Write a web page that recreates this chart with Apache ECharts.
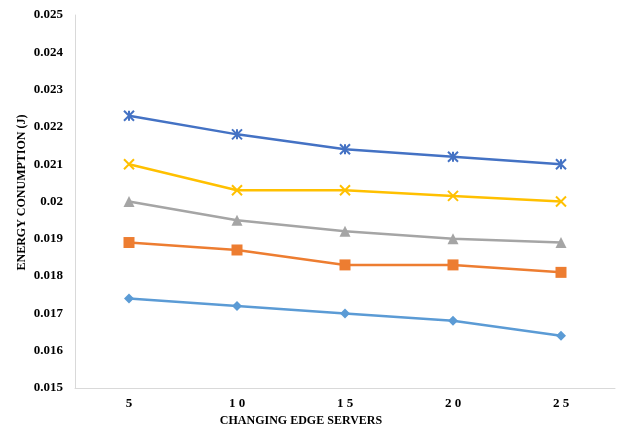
<!DOCTYPE html>
<html>
<head>
<meta charset="utf-8">
<script src="https://cdn.jsdelivr.net/npm/echarts@6/dist/echarts.min.js"></script>
<style>html,body{margin:0;padding:0;background:#fff;}#c{width:620px;height:429px;}</style>
</head>
<body>
<div id="c"></div>
<script>
var categories = ['5', '10', '15', '20', '25'];
var seriesDiamond = [0.0174, 0.0172, 0.0170, 0.0168, 0.0164];
var seriesSquare = [0.0189, 0.0187, 0.0183, 0.0183, 0.0181];
var seriesTriangle = [0.0200, 0.0195, 0.0192, 0.0190, 0.0189];
var seriesCross = [0.0210, 0.0203, 0.0203, 0.02015, 0.0200];
var seriesStar = [0.0223, 0.0218, 0.0214, 0.0212, 0.0210];
var yTicks = ['0.015','0.016','0.017','0.018','0.019','0.02','0.021','0.022','0.023','0.024','0.025'];

var chart = echarts.init(document.getElementById('c'), null, {renderer: 'canvas'});
var font = 'Liberation Serif';
function mk(data, color, symbol, size, item) {
  return {
    type: 'line', data: data, symbol: symbol, symbolSize: size,
    lineStyle: {color: color, width: 2.5},
    itemStyle: item || {color: color},
    showSymbol: true, z: 3
  };
}
var xPath = 'path://M0,0L10,10M10,0L0,10';
var starPath = 'path://M0,0L10,10M10,0L0,10M5,0L5,10';
chart.setOption({
  animation: false,
  backgroundColor: '#fff',
  grid: {left: 75, right: 5, top: 15, bottom: 41, outerBoundsMode: 'none', containLabel: false},
  xAxis: {
    type: 'category', data: categories,
    axisLine: {lineStyle: {color: '#d9d9d9', width: 1}},
    axisTick: {show: false},
    axisLabel: {color: '#000', fontFamily: font, fontWeight: 'bold', fontSize: 13, margin: 9,
      formatter: function (v) { return v.split('').join(' '); }},
    name: 'CHANGING EDGE SERVERS', nameLocation: 'middle', nameGap: 27, nameMoveOverlap: false,
    nameTextStyle: {color: '#000', fontFamily: font, fontWeight: 'bold', fontSize: 12, padding: [0, 88, 0, 0]}
  },
  yAxis: {
    type: 'value', min: 0.015, max: 0.025, interval: 0.001,
    axisLine: {show: true, lineStyle: {color: '#d9d9d9', width: 1}},
    axisTick: {show: false},
    splitLine: {show: false},
    axisLabel: {color: '#000', fontFamily: font, fontWeight: 'bold', fontSize: 13, margin: 12,
      formatter: function (v) { var i = Math.round((v - 0.015) / 0.001); return yTicks[i]; }},
    name: 'ENERGY CONUMPTION (J)', nameLocation: 'middle', nameGap: 47, nameRotate: 90, nameMoveOverlap: false,
    nameTextStyle: {color: '#000', fontFamily: font, fontWeight: 'bold', fontSize: 12, padding: [0, 0, 0, 18]}
  },
  series: [
    mk(seriesDiamond, '#5B9BD5', 'diamond', 10),
    mk(seriesSquare, '#ED7D31', 'rect', 11),
    mk(seriesTriangle, '#A5A5A5', 'triangle', 11),
    mk(seriesCross, '#FFC000', xPath, 10, {color: 'transparent', borderColor: '#FFC000', borderWidth: 2}),
    mk(seriesStar, '#4472C4', starPath, 10, {color: 'transparent', borderColor: '#4472C4', borderWidth: 2})
  ]
});
</script>
</body>
</html>
